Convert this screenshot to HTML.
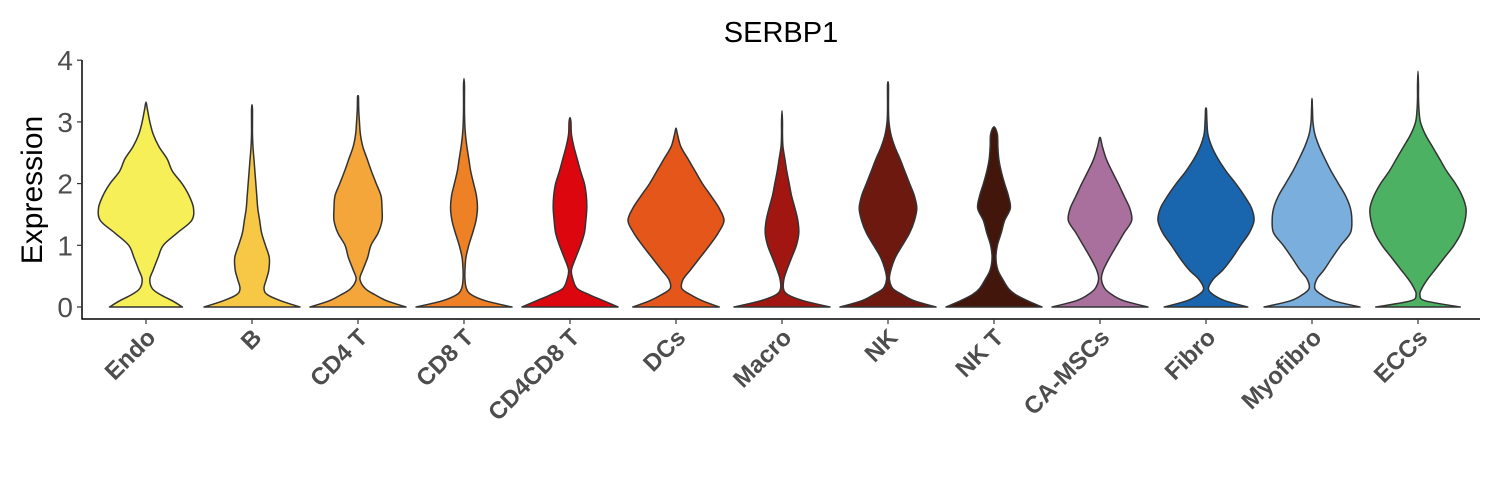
<!DOCTYPE html>
<html><head><meta charset="utf-8"><style>
html,body{margin:0;padding:0;background:#fff;}
svg{display:block;font-family:"Liberation Sans",Arial,sans-serif;}
</style></head><body>
<svg id="chart" width="1500" height="500" viewBox="0 0 1500 500">
<text x="781" y="42" text-anchor="middle" font-size="29" fill="#000">SERBP1</text>
<text transform="translate(42,190) rotate(-90)" text-anchor="middle" font-size="30" fill="#000">Expression</text>
<g id="violins"></g>
<g id="axes"></g>
</svg>
<script>
const categories = ["Endo","B","CD4 T","CD8 T","CD4CD8 T","DCs","Macro","NK","NK T","CA-MSCs","Fibro","Myofibro","ECCs"];
const colors = ["#F7EF57","#F6C846","#F4A63A","#EE8126","#DC060E","#E4561A","#A21612","#6E1910","#43160C","#A96F9D","#1A66AE","#7AAEDC","#4CB162"];
const maxValues = [3.32,3.28,3.42,3.7,3.07,2.9,3.18,3.65,2.92,2.75,3.22,3.38,3.82];
const levels = [0,0.1,0.2,0.3,0.45,0.6,0.8,1.0,1.2,1.4,1.6,1.8,2.0,2.2,2.4,2.6,2.8,3.0,3.2,3.4,3.6,3.8];
const densEndo = [0.76,0.55,0.3,0.13,0.08,0.15,0.25,0.36,0.65,0.95,0.99,0.9,0.75,0.55,0.44,0.27,0.15,0.08,0.03];
const densB = [1.0,0.6,0.32,0.25,0.3,0.35,0.36,0.28,0.2,0.16,0.12,0.1,0.08,0.06,0.04,0.02,0.01,0.01,0.01];
const densCD4T = [1.0,0.6,0.35,0.15,0.04,0.1,0.2,0.27,0.42,0.5,0.5,0.48,0.38,0.28,0.19,0.1,0.05,0.03,0.015,0.01];
const densCD8T = [1.0,0.45,0.15,0.05,0.02,0.02,0.04,0.1,0.18,0.25,0.28,0.26,0.2,0.14,0.1,0.06,0.03,0.015,0.01,0.01,0.01];
const densCD4CD8T = [1.0,0.7,0.4,0.15,0.06,0.03,0.12,0.22,0.3,0.33,0.35,0.34,0.3,0.22,0.15,0.08,0.03,0.02];
const densDCs = [0.9,0.55,0.3,0.12,0.15,0.3,0.5,0.7,0.88,1.0,0.9,0.73,0.55,0.4,0.25,0.1,0.03];
const densMacro = [1.0,0.45,0.12,0.03,0.04,0.1,0.2,0.3,0.35,0.33,0.27,0.2,0.15,0.1,0.06,0.02,0.01,0.01];
const densNK = [1.0,0.55,0.3,0.1,0.03,0.06,0.15,0.3,0.45,0.55,0.6,0.55,0.45,0.35,0.25,0.14,0.06,0.02,0.01,0.01,0.01];
const densNKT = [1.0,0.7,0.45,0.3,0.18,0.08,0.04,0.07,0.15,0.22,0.34,0.3,0.22,0.15,0.1,0.08,0.07];
const densCAMSC = [1.0,0.5,0.25,0.1,0.03,0.07,0.2,0.35,0.5,0.66,0.62,0.5,0.38,0.25,0.13,0.05];
const densFibro = [0.87,0.4,0.15,0.05,0.15,0.35,0.55,0.72,0.9,1.0,0.95,0.8,0.62,0.42,0.25,0.12,0.04,0.02,0.01];
const densMyofibro = [1.0,0.45,0.2,0.06,0.1,0.25,0.42,0.6,0.8,0.83,0.8,0.7,0.55,0.4,0.27,0.15,0.06,0.02,0.01];
const densECCs = [0.88,0.15,0.04,0.08,0.2,0.35,0.55,0.75,0.9,0.98,1.0,0.92,0.78,0.6,0.45,0.3,0.15,0.05,0.02,0.01,0.01];
const densities = [densEndo,densB,densCD4T,densCD8T,densCD4CD8T,densDCs,densMacro,densNK,densNKT,densCAMSC,densFibro,densMyofibro,densECCs];
const yTicks = [0,1,2,3,4];

const NS="http://www.w3.org/2000/svg";
const plotL=82, plotR=1480, axisY=319;
const yScale = v => 307 - 61.7*v;
const xCenter = i => 146 + 106*i;
const halfMax = 48;

function spline(pts){
  let d="M"+pts[0][0].toFixed(2)+","+pts[0][1].toFixed(2);
  for(let i=0;i<pts.length-1;i++){
    const p0=pts[Math.max(0,i-1)],p1=pts[i],p2=pts[i+1],p3=pts[Math.min(pts.length-1,i+2)];
    const c1=[p1[0]+(p2[0]-p0[0])/6,p1[1]+(p2[1]-p0[1])/6];
    const c2=[p2[0]-(p3[0]-p1[0])/6,p2[1]-(p3[1]-p1[1])/6];
    d+=" C"+c1[0].toFixed(2)+","+c1[1].toFixed(2)+" "+c2[0].toFixed(2)+","+c2[1].toFixed(2)+" "+p2[0].toFixed(2)+","+p2[1].toFixed(2);
  }
  return d;
}

const gV=document.getElementById('violins');
categories.forEach((c,i)=>{
  const cx=xCenter(i), dens=densities[i], mx=maxValues[i];
  const right=[], left=[];
  for(let k=0;k<dens.length && levels[k]<mx;k++){
    right.push([cx+dens[k]*halfMax, yScale(levels[k])]);
  }
  right.push([cx, yScale(mx)]);
  for(let k=right.length-2;k>=0;k--){ left.push([2*cx-right[k][0], right[k][1]]); }
  const pts=right.concat(left);
  const d=spline(pts)+" Z";
  const p=document.createElementNS(NS,'path');
  p.setAttribute('d',d);
  p.setAttribute('fill',colors[i]);
  p.setAttribute('stroke','#333');
  p.setAttribute('stroke-width','1.5');
  p.setAttribute('stroke-linejoin','round');
  
  
  gV.appendChild(p);
});

const gA=document.getElementById('axes');
function el(tag,attrs){const e=document.createElementNS(NS,tag);for(const k in attrs)e.setAttribute(k,attrs[k]);gA.appendChild(e);return e;}
const yl=el('line',{x1:plotL,y1:60,x2:plotL,y2:axisY+0.5,stroke:'#000','stroke-width':1.5});


const xl=el('line',{x1:plotL-0.5,y1:axisY,x2:plotR,y2:axisY,stroke:'#000','stroke-width':1.5});


yTicks.forEach(t=>{
  const y=yScale(t);
  const tk=el('line',{x1:plotL-5,y1:y,x2:plotL,y2:y,stroke:'#333','stroke-width':1.2});
  
  
  const tx=el('text',{x:plotL-9,y:y+10,'text-anchor':'end','font-size':28,fill:'#4d4d4d'});
  tx.textContent=t;
  
  
});
categories.forEach((c,i)=>{
  const x=xCenter(i);
  const tk=el('line',{x1:x,y1:axisY,x2:x,y2:axisY+5,stroke:'#333','stroke-width':1.2});
  
  
  const tx=el('text',{transform:'translate('+(x+11)+','+(axisY+20)+') rotate(-45)','text-anchor':'end','font-size':24,'font-weight':'bold',fill:'#4d4d4d'});
  tx.textContent=c;
  
  
});
</script>
</body></html>
